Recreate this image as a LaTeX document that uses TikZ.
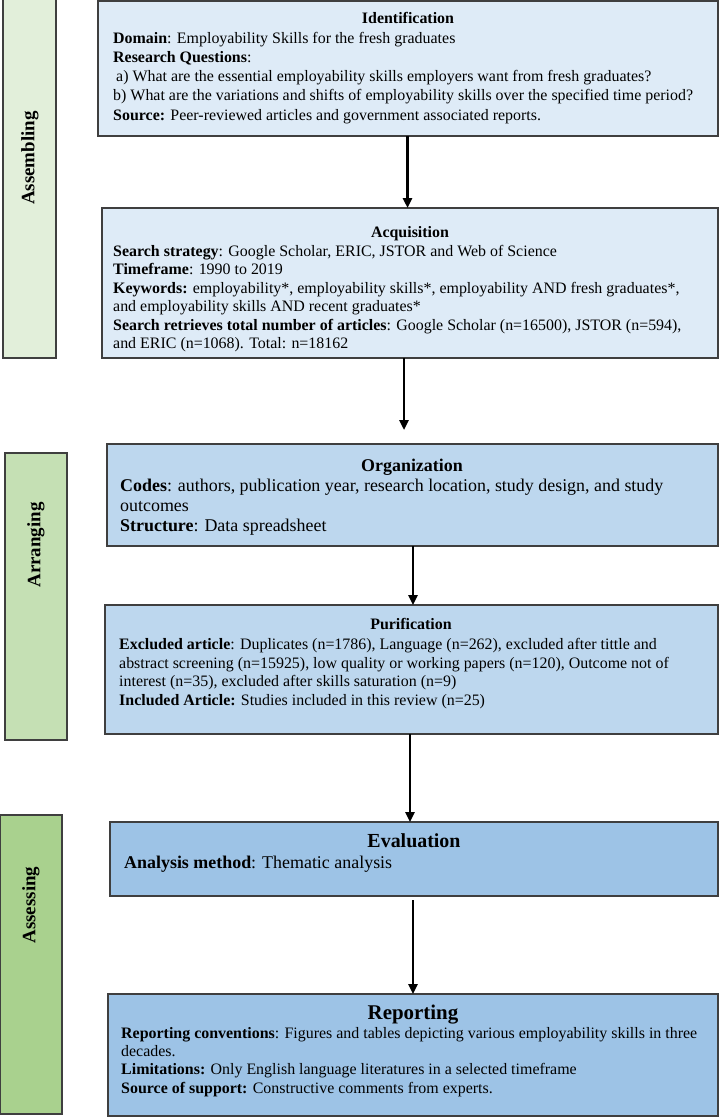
\documentclass[tikz,border=0pt]{standalone}
\usepackage{fontspec}
\setmainfont{Liberation Serif}
\usetikzlibrary{arrows.meta,calc}
\definecolor{gA}{HTML}{E2EFDA}
\definecolor{gB}{HTML}{C5E0B4}
\definecolor{gC}{HTML}{A9D18E}
\definecolor{bA}{HTML}{DEEBF7}
\definecolor{bB}{HTML}{BDD7EE}
\definecolor{bC}{HTML}{9DC3E6}
\definecolor{edge}{HTML}{3F3F3F}
\begin{document}
\begin{tikzpicture}[x=1bp,y=-1bp,
  box/.style={draw=edge,line width=1.3bp,anchor=north west,inner sep=0pt,outer sep=0pt},
  sidelabel/.style={rotate=90,inner sep=0pt,font=\fontsize{19}{22}\selectfont\bfseries},
  body/.style={anchor=north west,inner sep=0pt,align=left},
  ttl/.style={anchor=base,inner sep=0pt},
  conn/.style={line width=2.4bp,-{Triangle[length=10bp,width=9bp]}}
]
\useasboundingbox (0,0) rectangle (721,1117);
% side boxes
\node[box,fill=gA,minimum width=53bp,minimum height=360bp] (sa) at (3,-2) {};
\node[box,fill=gB,minimum width=62bp,minimum height=287bp] (sb) at (5,453) {};
\node[box,fill=gC,minimum width=62bp,minimum height=299bp] (sc) at (0,815) {};
\node[sidelabel] (saL) at (30,158) {Assembling};
\node[sidelabel] (sbL) at (36,545) {Arranging};
\node[sidelabel] (scL) at (31,905) {Assessing};
% main boxes
\node[box,fill=bA,minimum width=620bp,minimum height=135bp] (ident) at (98,1) {};
\node[box,fill=bA,minimum width=616bp,minimum height=150bp] (acq) at (102,208) {};
\node[box,fill=bB,minimum width=611bp,minimum height=102bp] (org) at (107,444) {};
\node[box,fill=bB,minimum width=613bp,minimum height=129bp] (pur) at (105,605) {};
\node[box,fill=bC,minimum width=608bp,minimum height=74bp] (eva) at (110,822) {};
\node[box,fill=bC,minimum width=610bp,minimum height=122bp] (rep) at (108,994) {};
% texts
\node[ttl,font=\fontsize{16}{19}\selectfont\bfseries] (identT) at (408,23) {Identification};
\node[body,font=\fontsize{16}{19.3}\selectfont] (identB) at (113,29.5) {\strut\textbf{Domain}: Employability Skills for the fresh graduates\\
\textbf{Research Questions}:\\
\hspace{3bp}a) What are the essential employability skills employers want from fresh graduates?\\
b) What are the variations and shifts of employability skills over the specified time period?\\
\textbf{Source:} Peer-reviewed articles and government associated reports.};

\node[ttl,font=\fontsize{16}{19}\selectfont\bfseries] (acqT) at (410,237) {Acquisition};
\node[body,font=\fontsize{16}{18.6}\selectfont] (acqB) at (113,243) {\strut\textbf{Search strategy}: Google Scholar, ERIC, JSTOR and Web of Science\\
\textbf{Timeframe}: 1990 to 2019\\
\textbf{Keywords:} employability*, employability skills*, employability AND fresh graduates*,\\
and employability skills AND recent graduates*\\
\textbf{Search retrieves total number of articles}: Google Scholar (n=16500), JSTOR (n=594),\\
and ERIC (n=1068). Total: n=18162};

\node[ttl,font=\fontsize{18}{21}\selectfont\bfseries] (orgT) at (412,471) {Organization};
\node[body,font=\fontsize{18}{20}\selectfont] (orgB) at (120,477) {\strut\textbf{Codes}: authors, publication year, research location, study design, and study\\
outcomes\\
\textbf{Structure}: Data spreadsheet};

\node[ttl,font=\fontsize{16}{19}\selectfont\bfseries] (purT) at (411,629) {Purification};
\node[body,font=\fontsize{16}{18.8}\selectfont] (purB) at (119,636) {\strut\textbf{Excluded article}: Duplicates (n=1786), Language (n=262), excluded after tittle and\\
abstract screening (n=15925), low quality or working papers (n=120), Outcome not of\\
interest (n=35), excluded after skills saturation (n=9)\\
\textbf{Included Article:} Studies included in this review (n=25)};

\node[ttl,font=\fontsize{20}{23}\selectfont\bfseries] (evaT) at (414,847) {Evaluation};
\node[body,font=\fontsize{18}{20}\selectfont] (evaB) at (124,854) {\strut\textbf{Analysis method}: Thematic analysis};

\node[ttl,font=\fontsize{21}{24}\selectfont\bfseries] (repT) at (413,1019) {Reporting};
\node[body,font=\fontsize{16}{18.4}\selectfont] (repB) at (121,1025) {\strut\textbf{Reporting conventions}: Figures and tables depicting various employability skills in three\\
decades.\\
\textbf{Limitations:} Only English language literatures in a selected timeframe\\
\textbf{Source of support:} Constructive comments from experts.};
% connectors
\coordinate (p1) at ($(ident.south)+(-0.5,0)$);
\coordinate (p2) at ($(acq.south)+(-6,0)$);
\coordinate (p3) at ($(org.south)+(0.5,0)$);
\coordinate (p4) at ($(pur.south)+(-1.5,0)$);
\coordinate (p5) at ($(eva.south)+(-1,0)$);
\draw[conn] (p1) -- (p1 |- acq.north);
\draw[conn,shorten >=14bp] (p2) -- (p2 |- org.north);
\draw[conn] (p3) -- (p3 |- pur.north);
\draw[conn] (p4) -- (p4 |- eva.north);
\draw[conn,shorten <=4bp] (p5) -- (p5 |- rep.north);
\end{tikzpicture}
\end{document}
